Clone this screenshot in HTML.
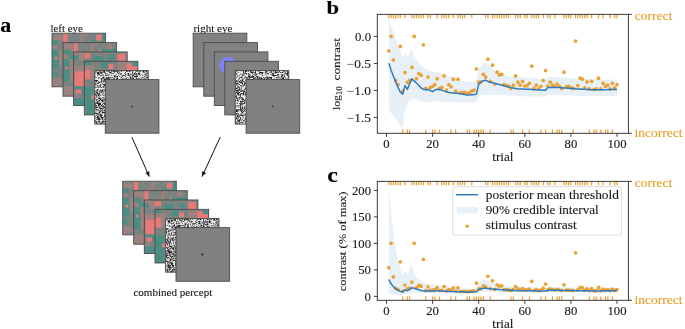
<!DOCTYPE html><html><head><meta charset="utf-8"><style>html,body{margin:0;padding:0;background:#fff;overflow:hidden;}svg{display:block;will-change:transform;}text{font-family:"Liberation Serif",serif;stroke-width:0.12px;paint-order:stroke;}</style></head><body>
<svg width="685" height="329" viewBox="0 0 685 329">
<rect width="685" height="329" fill="#fff"/>
<defs>
<clipPath id="sqc"><rect x="0" y="0" width="53.6" height="53.6"/></clipPath>
<g id="lstack">
<g transform="translate(52 33.2)">
<g clip-path="url(#sqc)">
<rect x="0" y="0" width="53.6" height="53.6" fill="#7b8381"/>
<rect x="1.4" y="2.3" width="8.5" height="4.7" fill="#9d817e"/>
<rect x="0" y="7" width="6" height="2.5" fill="#4a8d82"/>
<rect x="11.2" y="0" width="4.2" height="9.5" fill="#e87979"/>
<rect x="28.5" y="0.5" width="6.3" height="2.5" fill="#9d817e"/>
<rect x="28.5" y="0.5" width="2.7" height="9" fill="#9d817e"/>
<rect x="24.6" y="7.8" width="4" height="1.7" fill="#9d817e"/>
<rect x="36.9" y="7" width="2.5" height="2.5" fill="#9d817e"/>
<rect x="38.7" y="7" width="5.4" height="2.5" fill="#4a8d82"/>
<rect x="44.1" y="1.5" width="5.9" height="5.8" fill="#e87979"/>
<rect x="50" y="0" width="3.7" height="9.5" fill="#4a8d82"/>
<rect x="0" y="6.8" width="5.2" height="5.1" fill="#4a8d82"/>
<rect x="0.9" y="11.9" width="4.3" height="4.4" fill="#9d817e"/>
<rect x="0" y="16.3" width="6.7" height="10.2" fill="#4a8d82"/>
<rect x="6.7" y="16.3" width="3.9" height="15.7" fill="#9d817e"/>
<rect x="2.4" y="23.6" width="2.9" height="2.9" fill="#e87979"/>
<rect x="0" y="26.5" width="6.7" height="8.7" fill="#4a8d82"/>
<rect x="0" y="38" width="5" height="5" fill="#4a8d82"/>
<rect x="0" y="45.4" width="10.6" height="5.1" fill="#9d817e"/>
<rect x="0" y="50.5" width="6" height="3.1" fill="#9d817e"/>
</g>
<rect x="0" y="0" width="53.6" height="53.6" fill="none" stroke="#4a4a4a" stroke-width="0.9"/>
</g>
<g transform="translate(63 42.6)">
<g clip-path="url(#sqc)">
<rect x="0" y="0" width="53.6" height="53.6" fill="#7b8381"/>
<rect x="1.4" y="2.3" width="8.5" height="4.7" fill="#9d817e"/>
<rect x="10.6" y="0" width="4.2" height="9.5" fill="#e87979"/>
<rect x="27.5" y="0.5" width="6.7" height="2.5" fill="#9d817e"/>
<rect x="27.5" y="0.5" width="2.7" height="9" fill="#9d817e"/>
<rect x="23.6" y="7.8" width="4" height="1.7" fill="#9d817e"/>
<rect x="36" y="7" width="2.5" height="2.5" fill="#e87979"/>
<rect x="38" y="6.5" width="15.7" height="3" fill="#4a8d82"/>
<rect x="43.5" y="1.5" width="5.9" height="5" fill="#9d817e"/>
<rect x="0" y="1.1" width="10.6" height="6" fill="#9d817e"/>
<rect x="1.4" y="7.1" width="5.1" height="5.1" fill="#4a8d82"/>
<rect x="0.5" y="12.2" width="5.1" height="4.2" fill="#9d817e"/>
<rect x="5.6" y="12.2" width="5" height="4.2" fill="#4a8d82"/>
<rect x="0" y="16.4" width="6.5" height="22.1" fill="#4a8d82"/>
<rect x="6.5" y="16.4" width="4.1" height="10.2" fill="#9d817e"/>
<rect x="2.3" y="24.1" width="2.5" height="2.5" fill="#e87979"/>
<rect x="7.2" y="26.6" width="3.4" height="12" fill="#9d817e"/>
<rect x="0" y="43.7" width="10.6" height="9.9" fill="#9d817e"/>
</g>
<rect x="0" y="0" width="53.6" height="53.6" fill="none" stroke="#4a4a4a" stroke-width="0.9"/>
</g>
<g transform="translate(73.6 51.9)">
<g clip-path="url(#sqc)">
<rect x="0" y="0" width="53.6" height="53.6" fill="#7b8381"/>
<rect x="0" y="1.3" width="10.8" height="7" fill="#9d817e"/>
<rect x="10.8" y="1.3" width="6" height="5" fill="#e87979"/>
<rect x="19.7" y="4.3" width="9.9" height="5.2" fill="#4a8d82"/>
<rect x="35.6" y="3.3" width="5" height="5" fill="#4a8d82"/>
<rect x="43" y="1.3" width="10.7" height="1.5" fill="#9d817e"/>
<rect x="43.8" y="2.3" width="8" height="7.2" fill="#e87979"/>
<rect x="0" y="0" width="10.7" height="3.5" fill="#9d817e"/>
<rect x="0" y="3.5" width="5" height="5" fill="#4a8d82"/>
<rect x="5" y="3.5" width="5.7" height="5" fill="#9d817e"/>
<rect x="0" y="14.5" width="10.7" height="5" fill="#9d817e"/>
<rect x="1" y="19.5" width="9.7" height="15" fill="#e87979"/>
<rect x="0" y="34.5" width="10.7" height="3" fill="#4a8d82"/>
<rect x="2" y="37.5" width="6" height="4" fill="#e87979"/>
<rect x="8" y="37.5" width="2.7" height="4" fill="#4a8d82"/>
<rect x="2" y="41.5" width="3" height="5" fill="#9d817e"/>
<rect x="0" y="46.5" width="10.7" height="7.2" fill="#4a8d82"/>
</g>
<rect x="0" y="0" width="53.6" height="53.6" fill="none" stroke="#4a4a4a" stroke-width="0.9"/>
</g>
<g transform="translate(84.3 61.3)">
<g clip-path="url(#sqc)">
<rect x="0" y="0" width="53.6" height="53.6" fill="#7b8381"/>
<rect x="0.3" y="0" width="5.5" height="9.3" fill="#4a8d82"/>
<rect x="16.8" y="0.9" width="7" height="6" fill="#4a8d82"/>
<rect x="24" y="2.9" width="5" height="5" fill="#e87979"/>
<rect x="33" y="0.9" width="9.4" height="8.4" fill="#9d817e"/>
<rect x="42.4" y="1.9" width="5.4" height="7.4" fill="#e87979"/>
<rect x="47.8" y="0.9" width="5.9" height="4" fill="#4a8d82"/>
<rect x="47.8" y="4.9" width="5.9" height="4.4" fill="#e87979"/>
<rect x="0" y="0" width="5" height="4" fill="#4a8d82"/>
<rect x="0" y="4" width="10.6" height="4.4" fill="#9d817e"/>
<rect x="0" y="8.4" width="6" height="9.8" fill="#e87979"/>
<rect x="6" y="8.4" width="4.6" height="9.8" fill="#9d817e"/>
<rect x="1" y="25.5" width="8" height="28.2" fill="#4a8d82"/>
<rect x="7" y="34" width="3.6" height="4" fill="#e87979"/>
</g>
<rect x="0" y="0" width="53.6" height="53.6" fill="none" stroke="#4a4a4a" stroke-width="0.9"/>
</g>
<g transform="translate(94.7 70.5)">
<rect x="0" y="0" width="53.6" height="53.6" fill="#ececec"/>
<path d="M4.8 0h0.8v0.8h-0.8zM8 0h2.4v0.8h-2.4zM12 0h0.8v0.8h-0.8zM16 0h1.6v0.8h-1.6zM18.4 0h3.2v0.8h-3.2zM28 0h0.8v0.8h-0.8zM32 0h3.2v0.8h-3.2zM37.6 0h0.8v0.8h-0.8zM40 0h1.6v0.8h-1.6zM44 0h1.6v0.8h-1.6zM47.2 0h2.4v0.8h-2.4zM51.2 0h2.4v0.8h-2.4zM0 0.8h0.8v0.8h-0.8zM1.6 0.8h0.8v0.8h-0.8zM4 0.8h0.8v0.8h-0.8zM5.6 0.8h0.8v0.8h-0.8zM7.2 0.8h0.8v0.8h-0.8zM8.8 0.8h1.6v0.8h-1.6zM12 0.8h0.8v0.8h-0.8zM13.6 0.8h1.6v0.8h-1.6zM16.8 0.8h0.8v0.8h-0.8zM18.4 0.8h1.6v0.8h-1.6zM20.8 0.8h3.2v0.8h-3.2zM24.8 0.8h0.8v0.8h-0.8zM26.4 0.8h0.8v0.8h-0.8zM31.2 0.8h1.6v0.8h-1.6zM34.4 0.8h1.6v0.8h-1.6zM37.6 0.8h0.8v0.8h-0.8zM41.6 0.8h1.6v0.8h-1.6zM44 0.8h0.8v0.8h-0.8zM45.6 0.8h0.8v0.8h-0.8zM48 0.8h1.6v0.8h-1.6zM50.4 0.8h1.6v0.8h-1.6zM0.8 1.6h0.8v0.8h-0.8zM2.4 1.6h2.4v0.8h-2.4zM5.6 1.6h2.4v0.8h-2.4zM8.8 1.6h1.6v0.8h-1.6zM14.4 1.6h2.4v0.8h-2.4zM19.2 1.6h0.8v0.8h-0.8zM22.4 1.6h0.8v0.8h-0.8zM24 1.6h0.8v0.8h-0.8zM30.4 1.6h0.8v0.8h-0.8zM37.6 1.6h0.8v0.8h-0.8zM40 1.6h0.8v0.8h-0.8zM44 1.6h0.8v0.8h-0.8zM48 1.6h0.8v0.8h-0.8zM49.6 1.6h0.8v0.8h-0.8zM52 1.6h0.8v0.8h-0.8zM2.4 2.4h2.4v0.8h-2.4zM5.6 2.4h1.6v0.8h-1.6zM10.4 2.4h0.8v0.8h-0.8zM12 2.4h0.8v0.8h-0.8zM16 2.4h0.8v0.8h-0.8zM17.6 2.4h1.6v0.8h-1.6zM23.2 2.4h1.6v0.8h-1.6zM25.6 2.4h1.6v0.8h-1.6zM29.6 2.4h0.8v0.8h-0.8zM32.8 2.4h1.6v0.8h-1.6zM35.2 2.4h0.8v0.8h-0.8zM37.6 2.4h0.8v0.8h-0.8zM39.2 2.4h1.6v0.8h-1.6zM41.6 2.4h0.8v0.8h-0.8zM43.2 2.4h2.4v0.8h-2.4zM51.2 2.4h0.8v0.8h-0.8zM52.8 2.4h0.8v0.8h-0.8zM0 3.2h0.8v0.8h-0.8zM2.4 3.2h2.4v0.8h-2.4zM8 3.2h0.8v0.8h-0.8zM10.4 3.2h0.8v0.8h-0.8zM12.8 3.2h0.8v0.8h-0.8zM16 3.2h0.8v0.8h-0.8zM21.6 3.2h0.8v0.8h-0.8zM25.6 3.2h0.8v0.8h-0.8zM30.4 3.2h0.8v0.8h-0.8zM32.8 3.2h1.6v0.8h-1.6zM37.6 3.2h0.8v0.8h-0.8zM39.2 3.2h0.8v0.8h-0.8zM40.8 3.2h1.6v0.8h-1.6zM43.2 3.2h1.6v0.8h-1.6zM50.4 3.2h1.6v0.8h-1.6zM52.8 3.2h0.8v0.8h-0.8zM4 4h1.6v0.8h-1.6zM7.2 4h0.8v0.8h-0.8zM11.2 4h0.8v0.8h-0.8zM14.4 4h0.8v0.8h-0.8zM20.8 4h0.8v0.8h-0.8zM24.8 4h0.8v0.8h-0.8zM26.4 4h0.8v0.8h-0.8zM30.4 4h1.6v0.8h-1.6zM33.6 4h0.8v0.8h-0.8zM35.2 4h2.4v0.8h-2.4zM38.4 4h1.6v0.8h-1.6zM40.8 4h0.8v0.8h-0.8zM42.4 4h0.8v0.8h-0.8zM44 4h1.6v0.8h-1.6zM47.2 4h0.8v0.8h-0.8zM49.6 4h1.6v0.8h-1.6zM2.4 4.8h0.8v0.8h-0.8zM5.6 4.8h1.6v0.8h-1.6zM8 4.8h0.8v0.8h-0.8zM10.4 4.8h1.6v0.8h-1.6zM12.8 4.8h1.6v0.8h-1.6zM16.8 4.8h0.8v0.8h-0.8zM19.2 4.8h1.6v0.8h-1.6zM23.2 4.8h0.8v0.8h-0.8zM27.2 4.8h3.2v0.8h-3.2zM32.8 4.8h2.4v0.8h-2.4zM37.6 4.8h1.6v0.8h-1.6zM41.6 4.8h0.8v0.8h-0.8zM45.6 4.8h0.8v0.8h-0.8zM48 4.8h0.8v0.8h-0.8zM51.2 4.8h1.6v0.8h-1.6zM0 5.6h0.8v0.8h-0.8zM8.8 5.6h0.8v0.8h-0.8zM19.2 5.6h1.6v0.8h-1.6zM21.6 5.6h1.6v0.8h-1.6zM24.8 5.6h0.8v0.8h-0.8zM27.2 5.6h0.8v0.8h-0.8zM30.4 5.6h0.8v0.8h-0.8zM35.2 5.6h0.8v0.8h-0.8zM37.6 5.6h0.8v0.8h-0.8zM39.2 5.6h4v0.8h-4zM49.6 5.6h0.8v0.8h-0.8zM52 5.6h0.8v0.8h-0.8zM0 6.4h0.8v0.8h-0.8zM1.6 6.4h0.8v0.8h-0.8zM4 6.4h0.8v0.8h-0.8zM8 6.4h1.6v0.8h-1.6zM11.2 6.4h0.8v0.8h-0.8zM12.8 6.4h4v0.8h-4zM17.6 6.4h0.8v0.8h-0.8zM20 6.4h0.8v0.8h-0.8zM22.4 6.4h0.8v0.8h-0.8zM26.4 6.4h0.8v0.8h-0.8zM32.8 6.4h0.8v0.8h-0.8zM35.2 6.4h1.6v0.8h-1.6zM37.6 6.4h0.8v0.8h-0.8zM40.8 6.4h0.8v0.8h-0.8zM47.2 6.4h1.6v0.8h-1.6zM51.2 6.4h1.6v0.8h-1.6zM3.2 7.2h1.6v0.8h-1.6zM7.2 7.2h2.4v0.8h-2.4zM11.2 7.2h0.8v0.8h-0.8zM12.8 7.2h1.6v0.8h-1.6zM16.8 7.2h0.8v0.8h-0.8zM18.4 7.2h1.6v0.8h-1.6zM21.6 7.2h1.6v0.8h-1.6zM25.6 7.2h0.8v0.8h-0.8zM27.2 7.2h0.8v0.8h-0.8zM28.8 7.2h0.8v0.8h-0.8zM31.2 7.2h0.8v0.8h-0.8zM35.2 7.2h1.6v0.8h-1.6zM37.6 7.2h1.6v0.8h-1.6zM41.6 7.2h0.8v0.8h-0.8zM43.2 7.2h1.6v0.8h-1.6zM45.6 7.2h1.6v0.8h-1.6zM48.8 7.2h2.4v0.8h-2.4zM52 7.2h1.6v0.8h-1.6zM5.6 8h2.4v0.8h-2.4zM9.6 8h5.6v0.8h-5.6zM19.2 8h0.8v0.8h-0.8zM21.6 8h1.6v0.8h-1.6zM28 8h0.8v0.8h-0.8zM30.4 8h1.6v0.8h-1.6zM33.6 8h0.8v0.8h-0.8zM35.2 8h0.8v0.8h-0.8zM37.6 8h1.6v0.8h-1.6zM41.6 8h1.6v0.8h-1.6zM6.4 8.8h0.8v0.8h-0.8zM8.8 8.8h2.4v0.8h-2.4zM12 8.8h0.8v0.8h-0.8zM13.6 8.8h2.4v0.8h-2.4zM17.6 8.8h1.6v0.8h-1.6zM21.6 8.8h4v0.8h-4zM27.2 8.8h3.2v0.8h-3.2zM31.2 8.8h0.8v0.8h-0.8zM34.4 8.8h0.8v0.8h-0.8zM36.8 8.8h0.8v0.8h-0.8zM40 8.8h1.6v0.8h-1.6zM43.2 8.8h0.8v0.8h-0.8zM45.6 8.8h0.8v0.8h-0.8zM48 8.8h1.6v0.8h-1.6zM50.4 8.8h0.8v0.8h-0.8zM0 9.6h3.2v0.8h-3.2zM6.4 9.6h0.8v0.8h-0.8zM8 9.6h0.8v0.8h-0.8zM9.6 9.6h0.8v0.8h-0.8zM12.8 9.6h1.6v0.8h-1.6zM15.2 9.6h0.8v0.8h-0.8zM20 9.6h0.8v0.8h-0.8zM23.2 9.6h0.8v0.8h-0.8zM24.8 9.6h0.8v0.8h-0.8zM27.2 9.6h0.8v0.8h-0.8zM28.8 9.6h3.2v0.8h-3.2zM33.6 9.6h0.8v0.8h-0.8zM35.2 9.6h1.6v0.8h-1.6zM40 9.6h1.6v0.8h-1.6zM42.4 9.6h0.8v0.8h-0.8zM44.8 9.6h0.8v0.8h-0.8zM47.2 9.6h0.8v0.8h-0.8zM48.8 9.6h1.6v0.8h-1.6zM51.2 9.6h2.4v0.8h-2.4zM0.8 10.4h1.6v0.8h-1.6zM3.2 10.4h0.8v0.8h-0.8zM6.4 10.4h0.8v0.8h-0.8zM8 10.4h2.4v0.8h-2.4zM0.8 11.2h0.8v0.8h-0.8zM4 11.2h3.2v0.8h-3.2zM8 11.2h0.8v0.8h-0.8zM2.4 12h1.6v0.8h-1.6zM4.8 12h0.8v0.8h-0.8zM10.4 12h0.8v0.8h-0.8zM0 12.8h1.6v0.8h-1.6zM2.4 12.8h1.6v0.8h-1.6zM7.2 12.8h0.8v0.8h-0.8zM10.4 12.8h0.8v0.8h-0.8zM0.8 13.6h0.8v0.8h-0.8zM5.6 13.6h0.8v0.8h-0.8zM8 13.6h2.4v0.8h-2.4zM0.8 14.4h0.8v0.8h-0.8zM2.4 14.4h0.8v0.8h-0.8zM4 14.4h0.8v0.8h-0.8zM5.6 14.4h0.8v0.8h-0.8zM9.6 14.4h0.8v0.8h-0.8zM2.4 15.2h0.8v0.8h-0.8zM4 15.2h0.8v0.8h-0.8zM5.6 15.2h0.8v0.8h-0.8zM8 15.2h0.8v0.8h-0.8zM9.6 15.2h1.6v0.8h-1.6zM0 16h0.8v0.8h-0.8zM3.2 16h0.8v0.8h-0.8zM5.6 16h0.8v0.8h-0.8zM8 16h1.6v0.8h-1.6zM10.4 16h0.8v0.8h-0.8zM0 16.8h0.8v0.8h-0.8zM1.6 16.8h0.8v0.8h-0.8zM3.2 16.8h0.8v0.8h-0.8zM4.8 16.8h0.8v0.8h-0.8zM6.4 16.8h0.8v0.8h-0.8zM8 16.8h0.8v0.8h-0.8zM2.4 18.4h1.6v0.8h-1.6zM8 18.4h0.8v0.8h-0.8zM9.6 18.4h1.6v0.8h-1.6zM1.6 19.2h1.6v0.8h-1.6zM4.8 19.2h4v0.8h-4zM2.4 20h0.8v0.8h-0.8zM5.6 20h0.8v0.8h-0.8zM7.2 20h0.8v0.8h-0.8zM9.6 20h1.6v0.8h-1.6zM0 20.8h2.4v0.8h-2.4zM4 20.8h1.6v0.8h-1.6zM6.4 20.8h1.6v0.8h-1.6zM8.8 20.8h0.8v0.8h-0.8zM1.6 21.6h1.6v0.8h-1.6zM4.8 21.6h0.8v0.8h-0.8zM6.4 21.6h0.8v0.8h-0.8zM8 21.6h0.8v0.8h-0.8zM10.4 21.6h0.8v0.8h-0.8zM0.8 22.4h0.8v0.8h-0.8zM2.4 22.4h1.6v0.8h-1.6zM4.8 22.4h0.8v0.8h-0.8zM8 22.4h0.8v0.8h-0.8zM0 23.2h2.4v0.8h-2.4zM3.2 23.2h2.4v0.8h-2.4zM7.2 23.2h0.8v0.8h-0.8zM10.4 23.2h0.8v0.8h-0.8zM0 24h0.8v0.8h-0.8zM2.4 24h0.8v0.8h-0.8zM4 24h0.8v0.8h-0.8zM8 24h0.8v0.8h-0.8zM9.6 24h1.6v0.8h-1.6zM0.8 24.8h1.6v0.8h-1.6zM3.2 24.8h1.6v0.8h-1.6zM5.6 24.8h0.8v0.8h-0.8zM8 24.8h0.8v0.8h-0.8zM10.4 24.8h0.8v0.8h-0.8zM1.6 25.6h0.8v0.8h-0.8zM4 25.6h0.8v0.8h-0.8zM0 26.4h0.8v0.8h-0.8zM1.6 26.4h0.8v0.8h-0.8zM3.2 26.4h0.8v0.8h-0.8zM7.2 26.4h0.8v0.8h-0.8zM8.8 26.4h0.8v0.8h-0.8zM0 27.2h0.8v0.8h-0.8zM4 27.2h2.4v0.8h-2.4zM8.8 27.2h0.8v0.8h-0.8zM10.4 27.2h0.8v0.8h-0.8zM3.2 28h4v0.8h-4zM8.8 28h0.8v0.8h-0.8zM10.4 28h0.8v0.8h-0.8zM0.8 28.8h2.4v0.8h-2.4zM5.6 28.8h0.8v0.8h-0.8zM7.2 28.8h1.6v0.8h-1.6zM9.6 28.8h0.8v0.8h-0.8zM1.6 29.6h0.8v0.8h-0.8zM4 29.6h1.6v0.8h-1.6zM6.4 29.6h2.4v0.8h-2.4zM9.6 29.6h1.6v0.8h-1.6zM2.4 30.4h1.6v0.8h-1.6zM4.8 30.4h0.8v0.8h-0.8zM7.2 30.4h1.6v0.8h-1.6zM10.4 30.4h0.8v0.8h-0.8zM1.6 31.2h1.6v0.8h-1.6zM7.2 31.2h0.8v0.8h-0.8zM8.8 31.2h0.8v0.8h-0.8zM10.4 31.2h0.8v0.8h-0.8zM0 32h1.6v0.8h-1.6zM2.4 32h2.4v0.8h-2.4zM5.6 32h0.8v0.8h-0.8zM9.6 32h1.6v0.8h-1.6zM0 32.8h0.8v0.8h-0.8zM1.6 32.8h4.8v0.8h-4.8zM8 32.8h2.4v0.8h-2.4zM0 33.6h0.8v0.8h-0.8zM3.2 33.6h3.2v0.8h-3.2zM7.2 33.6h0.8v0.8h-0.8zM9.6 33.6h1.6v0.8h-1.6zM0 34.4h2.4v0.8h-2.4zM3.2 34.4h1.6v0.8h-1.6zM6.4 34.4h0.8v0.8h-0.8zM8 34.4h0.8v0.8h-0.8zM10.4 34.4h0.8v0.8h-0.8zM0 35.2h1.6v0.8h-1.6zM3.2 35.2h0.8v0.8h-0.8zM4.8 35.2h4.8v0.8h-4.8zM1.6 36h0.8v0.8h-0.8zM4 36h0.8v0.8h-0.8zM8 36h0.8v0.8h-0.8zM9.6 36h0.8v0.8h-0.8zM0 36.8h3.2v0.8h-3.2zM4 36.8h1.6v0.8h-1.6zM7.2 36.8h0.8v0.8h-0.8zM8.8 36.8h2.4v0.8h-2.4zM0.8 37.6h0.8v0.8h-0.8zM4.8 37.6h3.2v0.8h-3.2zM8.8 37.6h0.8v0.8h-0.8zM0.8 38.4h3.2v0.8h-3.2zM5.6 38.4h0.8v0.8h-0.8zM7.2 38.4h0.8v0.8h-0.8zM10.4 38.4h0.8v0.8h-0.8zM5.6 39.2h0.8v0.8h-0.8zM8 39.2h0.8v0.8h-0.8zM9.6 39.2h1.6v0.8h-1.6zM0.8 40h1.6v0.8h-1.6zM3.2 40h2.4v0.8h-2.4zM6.4 40h1.6v0.8h-1.6zM8.8 40h1.6v0.8h-1.6zM4.8 40.8h1.6v0.8h-1.6zM7.2 40.8h0.8v0.8h-0.8zM0.8 41.6h0.8v0.8h-0.8zM4 41.6h1.6v0.8h-1.6zM7.2 41.6h3.2v0.8h-3.2zM0 42.4h3.2v0.8h-3.2zM4 42.4h0.8v0.8h-0.8zM7.2 42.4h0.8v0.8h-0.8zM9.6 42.4h1.6v0.8h-1.6zM1.6 43.2h0.8v0.8h-0.8zM3.2 43.2h0.8v0.8h-0.8zM4.8 43.2h1.6v0.8h-1.6zM2.4 44h1.6v0.8h-1.6zM4.8 44h2.4v0.8h-2.4zM9.6 44h0.8v0.8h-0.8zM1.6 44.8h0.8v0.8h-0.8zM4 44.8h0.8v0.8h-0.8zM5.6 44.8h2.4v0.8h-2.4zM9.6 44.8h1.6v0.8h-1.6zM0 45.6h0.8v0.8h-0.8zM2.4 45.6h1.6v0.8h-1.6zM5.6 45.6h1.6v0.8h-1.6zM9.6 45.6h0.8v0.8h-0.8zM1.6 46.4h2.4v0.8h-2.4zM4.8 46.4h0.8v0.8h-0.8zM6.4 46.4h2.4v0.8h-2.4zM9.6 46.4h0.8v0.8h-0.8zM0 47.2h1.6v0.8h-1.6zM2.4 47.2h3.2v0.8h-3.2zM6.4 47.2h2.4v0.8h-2.4zM10.4 47.2h0.8v0.8h-0.8zM3.2 48h1.6v0.8h-1.6zM7.2 48h0.8v0.8h-0.8zM1.6 48.8h4.8v0.8h-4.8zM7.2 48.8h0.8v0.8h-0.8zM8.8 48.8h1.6v0.8h-1.6zM0 49.6h0.8v0.8h-0.8zM4 49.6h0.8v0.8h-0.8zM8 49.6h0.8v0.8h-0.8zM0 50.4h0.8v0.8h-0.8zM1.6 50.4h0.8v0.8h-0.8zM3.2 50.4h2.4v0.8h-2.4zM7.2 50.4h0.8v0.8h-0.8zM8.8 50.4h1.6v0.8h-1.6zM0 51.2h2.4v0.8h-2.4zM3.2 51.2h0.8v0.8h-0.8zM6.4 51.2h3.2v0.8h-3.2zM10.4 51.2h0.8v0.8h-0.8zM1.6 52h0.8v0.8h-0.8zM4 52h0.8v0.8h-0.8zM5.6 52h0.8v0.8h-0.8zM7.2 52h0.8v0.8h-0.8zM10.4 52h0.8v0.8h-0.8zM1.6 52.8h1.6v0.8h-1.6zM4.8 52.8h2.4v0.8h-2.4zM8 52.8h0.8v0.8h-0.8zM9.6 52.8h0.8v0.8h-0.8z" fill="#1c1c1c"/>
<rect x="0" y="0" width="53.6" height="53.6" fill="none" stroke="#4a4a4a" stroke-width="0.9"/>
</g>
<rect x="105.3" y="79.6" width="53.6" height="53.6" fill="#7f8281" stroke="#4a4a4a" stroke-width="0.9"/>
</g>
</defs>
<text x="0.3" y="31.5" font-size="20.5" textLength="11" lengthAdjust="spacingAndGlyphs" fill="#000" stroke="#000" font-weight="bold" stroke-width="0">a</text>
<text x="326.5" y="13.6" font-size="18" textLength="12.6" lengthAdjust="spacingAndGlyphs" fill="#000" stroke="#000" font-weight="bold" stroke-width="0">b</text>
<text x="327.2" y="181.5" font-size="20" textLength="10.6" lengthAdjust="spacingAndGlyphs" fill="#000" stroke="#000" font-weight="bold" stroke-width="0">c</text>
<text x="50.5" y="31.9" font-size="9.5" textLength="32.25" lengthAdjust="spacingAndGlyphs" fill="#1a1a1a" stroke="#1a1a1a" stroke-width="0.05">left eye</text>
<text x="193.4" y="31.9" font-size="9.5" textLength="39.13" lengthAdjust="spacingAndGlyphs" fill="#1a1a1a" stroke="#1a1a1a" stroke-width="0.05">right eye</text>
<use href="#lstack"/>
<rect x="193.2" y="33.2" width="53.6" height="53.6" fill="#7f8281" stroke="#4a4a4a" stroke-width="0.9"/>
<rect x="203.8" y="42.6" width="53.6" height="53.6" fill="#7f8281" stroke="#4a4a4a" stroke-width="0.9"/>
<rect x="214.3" y="51.9" width="53.6" height="53.6" fill="#7f8281" stroke="#4a4a4a" stroke-width="0.9"/>
<circle cx="227.8" cy="65.6" r="8.5" fill="#8080ff"/>
<rect x="224.8" y="61.3" width="53.6" height="53.6" fill="#7f8281" stroke="#4a4a4a" stroke-width="0.9"/>
<g transform="translate(235.2 70.5)">
<rect x="0" y="0" width="53.6" height="53.6" fill="#ececec"/>
<path d="M2.4 0h0.8v0.8h-0.8zM5.6 0h1.6v0.8h-1.6zM8 0h0.8v0.8h-0.8zM9.6 0h1.6v0.8h-1.6zM14.4 0h1.6v0.8h-1.6zM20 0h0.8v0.8h-0.8zM21.6 0h0.8v0.8h-0.8zM24 0h1.6v0.8h-1.6zM29.6 0h2.4v0.8h-2.4zM32.8 0h4v0.8h-4zM38.4 0h3.2v0.8h-3.2zM43.2 0h1.6v0.8h-1.6zM47.2 0h0.8v0.8h-0.8zM51.2 0h0.8v0.8h-0.8zM52.8 0h0.8v0.8h-0.8zM0.8 0.8h0.8v0.8h-0.8zM8 0.8h0.8v0.8h-0.8zM9.6 0.8h2.4v0.8h-2.4zM12.8 0.8h0.8v0.8h-0.8zM15.2 0.8h1.6v0.8h-1.6zM17.6 0.8h0.8v0.8h-0.8zM20 0.8h0.8v0.8h-0.8zM23.2 0.8h0.8v0.8h-0.8zM30.4 0.8h1.6v0.8h-1.6zM36 0.8h0.8v0.8h-0.8zM37.6 0.8h0.8v0.8h-0.8zM40 0.8h0.8v0.8h-0.8zM41.6 0.8h0.8v0.8h-0.8zM44 0.8h0.8v0.8h-0.8zM48 0.8h1.6v0.8h-1.6zM50.4 0.8h0.8v0.8h-0.8zM52 0.8h0.8v0.8h-0.8zM0 1.6h0.8v0.8h-0.8zM2.4 1.6h0.8v0.8h-0.8zM8 1.6h0.8v0.8h-0.8zM9.6 1.6h0.8v0.8h-0.8zM15.2 1.6h3.2v0.8h-3.2zM19.2 1.6h1.6v0.8h-1.6zM24 1.6h4v0.8h-4zM29.6 1.6h0.8v0.8h-0.8zM31.2 1.6h0.8v0.8h-0.8zM34.4 1.6h0.8v0.8h-0.8zM36 1.6h0.8v0.8h-0.8zM38.4 1.6h0.8v0.8h-0.8zM40 1.6h2.4v0.8h-2.4zM43.2 1.6h0.8v0.8h-0.8zM44.8 1.6h0.8v0.8h-0.8zM46.4 1.6h1.6v0.8h-1.6zM49.6 1.6h0.8v0.8h-0.8zM52 1.6h1.6v0.8h-1.6zM0.8 2.4h0.8v0.8h-0.8zM8 2.4h2.4v0.8h-2.4zM11.2 2.4h0.8v0.8h-0.8zM12.8 2.4h0.8v0.8h-0.8zM16.8 2.4h0.8v0.8h-0.8zM20 2.4h0.8v0.8h-0.8zM23.2 2.4h1.6v0.8h-1.6zM26.4 2.4h1.6v0.8h-1.6zM30.4 2.4h0.8v0.8h-0.8zM32 2.4h1.6v0.8h-1.6zM36.8 2.4h1.6v0.8h-1.6zM40 2.4h0.8v0.8h-0.8zM49.6 2.4h0.8v0.8h-0.8zM51.2 2.4h2.4v0.8h-2.4zM0 3.2h1.6v0.8h-1.6zM4.8 3.2h1.6v0.8h-1.6zM7.2 3.2h0.8v0.8h-0.8zM10.4 3.2h1.6v0.8h-1.6zM12.8 3.2h0.8v0.8h-0.8zM14.4 3.2h0.8v0.8h-0.8zM18.4 3.2h1.6v0.8h-1.6zM20.8 3.2h1.6v0.8h-1.6zM24.8 3.2h0.8v0.8h-0.8zM26.4 3.2h0.8v0.8h-0.8zM29.6 3.2h0.8v0.8h-0.8zM32.8 3.2h0.8v0.8h-0.8zM35.2 3.2h0.8v0.8h-0.8zM36.8 3.2h1.6v0.8h-1.6zM42.4 3.2h0.8v0.8h-0.8zM46.4 3.2h0.8v0.8h-0.8zM48.8 3.2h0.8v0.8h-0.8zM50.4 3.2h2.4v0.8h-2.4zM0 4h0.8v0.8h-0.8zM1.6 4h0.8v0.8h-0.8zM7.2 4h0.8v0.8h-0.8zM8.8 4h0.8v0.8h-0.8zM13.6 4h1.6v0.8h-1.6zM17.6 4h0.8v0.8h-0.8zM20 4h1.6v0.8h-1.6zM31.2 4h0.8v0.8h-0.8zM36 4h0.8v0.8h-0.8zM37.6 4h1.6v0.8h-1.6zM41.6 4h2.4v0.8h-2.4zM45.6 4h0.8v0.8h-0.8zM47.2 4h1.6v0.8h-1.6zM52 4h0.8v0.8h-0.8zM2.4 4.8h0.8v0.8h-0.8zM4 4.8h0.8v0.8h-0.8zM7.2 4.8h1.6v0.8h-1.6zM12.8 4.8h0.8v0.8h-0.8zM14.4 4.8h0.8v0.8h-0.8zM16.8 4.8h0.8v0.8h-0.8zM20 4.8h0.8v0.8h-0.8zM26.4 4.8h1.6v0.8h-1.6zM36.8 4.8h4.8v0.8h-4.8zM42.4 4.8h0.8v0.8h-0.8zM46.4 4.8h1.6v0.8h-1.6zM48.8 4.8h0.8v0.8h-0.8zM52 4.8h1.6v0.8h-1.6zM1.6 5.6h0.8v0.8h-0.8zM6.4 5.6h0.8v0.8h-0.8zM9.6 5.6h0.8v0.8h-0.8zM12.8 5.6h2.4v0.8h-2.4zM16 5.6h3.2v0.8h-3.2zM20.8 5.6h1.6v0.8h-1.6zM23.2 5.6h0.8v0.8h-0.8zM31.2 5.6h0.8v0.8h-0.8zM38.4 5.6h0.8v0.8h-0.8zM43.2 5.6h0.8v0.8h-0.8zM45.6 5.6h1.6v0.8h-1.6zM48.8 5.6h0.8v0.8h-0.8zM52.8 5.6h0.8v0.8h-0.8zM0.8 6.4h0.8v0.8h-0.8zM4 6.4h3.2v0.8h-3.2zM9.6 6.4h0.8v0.8h-0.8zM11.2 6.4h1.6v0.8h-1.6zM13.6 6.4h4v0.8h-4zM18.4 6.4h0.8v0.8h-0.8zM20 6.4h0.8v0.8h-0.8zM21.6 6.4h1.6v0.8h-1.6zM24 6.4h0.8v0.8h-0.8zM25.6 6.4h0.8v0.8h-0.8zM28 6.4h0.8v0.8h-0.8zM29.6 6.4h0.8v0.8h-0.8zM31.2 6.4h5.6v0.8h-5.6zM40.8 6.4h1.6v0.8h-1.6zM43.2 6.4h0.8v0.8h-0.8zM46.4 6.4h0.8v0.8h-0.8zM48 6.4h0.8v0.8h-0.8zM49.6 6.4h0.8v0.8h-0.8zM3.2 7.2h0.8v0.8h-0.8zM6.4 7.2h0.8v0.8h-0.8zM8.8 7.2h0.8v0.8h-0.8zM10.4 7.2h1.6v0.8h-1.6zM12.8 7.2h0.8v0.8h-0.8zM14.4 7.2h0.8v0.8h-0.8zM17.6 7.2h1.6v0.8h-1.6zM20 7.2h0.8v0.8h-0.8zM21.6 7.2h1.6v0.8h-1.6zM24 7.2h3.2v0.8h-3.2zM28.8 7.2h0.8v0.8h-0.8zM30.4 7.2h0.8v0.8h-0.8zM32 7.2h0.8v0.8h-0.8zM34.4 7.2h2.4v0.8h-2.4zM38.4 7.2h0.8v0.8h-0.8zM42.4 7.2h0.8v0.8h-0.8zM44 7.2h1.6v0.8h-1.6zM46.4 7.2h2.4v0.8h-2.4zM52.8 7.2h0.8v0.8h-0.8zM4 8h0.8v0.8h-0.8zM8 8h0.8v0.8h-0.8zM12 8h0.8v0.8h-0.8zM13.6 8h0.8v0.8h-0.8zM17.6 8h2.4v0.8h-2.4zM21.6 8h1.6v0.8h-1.6zM24 8h0.8v0.8h-0.8zM25.6 8h1.6v0.8h-1.6zM28 8h1.6v0.8h-1.6zM31.2 8h3.2v0.8h-3.2zM36 8h0.8v0.8h-0.8zM40.8 8h0.8v0.8h-0.8zM46.4 8h2.4v0.8h-2.4zM49.6 8h0.8v0.8h-0.8zM51.2 8h1.6v0.8h-1.6zM0 8.8h0.8v0.8h-0.8zM3.2 8.8h0.8v0.8h-0.8zM6.4 8.8h1.6v0.8h-1.6zM10.4 8.8h0.8v0.8h-0.8zM12 8.8h2.4v0.8h-2.4zM15.2 8.8h2.4v0.8h-2.4zM19.2 8.8h0.8v0.8h-0.8zM24 8.8h3.2v0.8h-3.2zM28.8 8.8h0.8v0.8h-0.8zM30.4 8.8h3.2v0.8h-3.2zM37.6 8.8h0.8v0.8h-0.8zM39.2 8.8h0.8v0.8h-0.8zM42.4 8.8h0.8v0.8h-0.8zM45.6 8.8h0.8v0.8h-0.8zM51.2 8.8h0.8v0.8h-0.8zM52.8 8.8h0.8v0.8h-0.8zM0.8 9.6h0.8v0.8h-0.8zM2.4 9.6h0.8v0.8h-0.8zM4.8 9.6h0.8v0.8h-0.8zM6.4 9.6h1.6v0.8h-1.6zM10.4 9.6h0.8v0.8h-0.8zM20.8 9.6h4.8v0.8h-4.8zM26.4 9.6h1.6v0.8h-1.6zM28.8 9.6h1.6v0.8h-1.6zM32 9.6h1.6v0.8h-1.6zM36 9.6h0.8v0.8h-0.8zM40 9.6h1.6v0.8h-1.6zM42.4 9.6h0.8v0.8h-0.8zM44 9.6h0.8v0.8h-0.8zM49.6 9.6h0.8v0.8h-0.8zM51.2 9.6h2.4v0.8h-2.4zM0 10.4h2.4v0.8h-2.4zM3.2 10.4h1.6v0.8h-1.6zM5.6 10.4h1.6v0.8h-1.6zM8 10.4h1.6v0.8h-1.6zM0 11.2h0.8v0.8h-0.8zM2.4 11.2h0.8v0.8h-0.8zM4 11.2h1.6v0.8h-1.6zM6.4 11.2h1.6v0.8h-1.6zM9.6 11.2h0.8v0.8h-0.8zM0 12h0.8v0.8h-0.8zM1.6 12h0.8v0.8h-0.8zM4.8 12h2.4v0.8h-2.4zM8.8 12h0.8v0.8h-0.8zM10.4 12h0.8v0.8h-0.8zM0 12.8h3.2v0.8h-3.2zM6.4 12.8h1.6v0.8h-1.6zM8.8 12.8h2.4v0.8h-2.4zM0.8 13.6h0.8v0.8h-0.8zM2.4 13.6h0.8v0.8h-0.8zM4 13.6h0.8v0.8h-0.8zM7.2 13.6h0.8v0.8h-0.8zM8.8 13.6h0.8v0.8h-0.8zM1.6 14.4h0.8v0.8h-0.8zM4.8 14.4h0.8v0.8h-0.8zM6.4 14.4h0.8v0.8h-0.8zM8 14.4h1.6v0.8h-1.6zM10.4 14.4h0.8v0.8h-0.8zM0 15.2h0.8v0.8h-0.8zM2.4 15.2h0.8v0.8h-0.8zM5.6 15.2h1.6v0.8h-1.6zM0 16h0.8v0.8h-0.8zM2.4 16h1.6v0.8h-1.6zM8 16h0.8v0.8h-0.8zM10.4 16h0.8v0.8h-0.8zM1.6 16.8h0.8v0.8h-0.8zM3.2 16.8h1.6v0.8h-1.6zM5.6 16.8h0.8v0.8h-0.8zM10.4 16.8h0.8v0.8h-0.8zM0 17.6h2.4v0.8h-2.4zM4 17.6h0.8v0.8h-0.8zM5.6 17.6h0.8v0.8h-0.8zM9.6 17.6h1.6v0.8h-1.6zM3.2 18.4h1.6v0.8h-1.6zM5.6 18.4h0.8v0.8h-0.8zM8.8 18.4h0.8v0.8h-0.8zM10.4 18.4h0.8v0.8h-0.8zM0 19.2h3.2v0.8h-3.2zM4 19.2h1.6v0.8h-1.6zM7.2 19.2h0.8v0.8h-0.8zM0.8 20h3.2v0.8h-3.2zM5.6 20h4v0.8h-4zM2.4 20.8h0.8v0.8h-0.8zM4.8 20.8h1.6v0.8h-1.6zM8 20.8h2.4v0.8h-2.4zM0.8 21.6h1.6v0.8h-1.6zM3.2 21.6h1.6v0.8h-1.6zM8 21.6h0.8v0.8h-0.8zM9.6 21.6h0.8v0.8h-0.8zM1.6 22.4h2.4v0.8h-2.4zM5.6 22.4h3.2v0.8h-3.2zM9.6 22.4h0.8v0.8h-0.8zM1.6 23.2h2.4v0.8h-2.4zM4.8 23.2h1.6v0.8h-1.6zM8 23.2h0.8v0.8h-0.8zM9.6 23.2h1.6v0.8h-1.6zM2.4 24h0.8v0.8h-0.8zM4 24h1.6v0.8h-1.6zM7.2 24h2.4v0.8h-2.4zM10.4 24h0.8v0.8h-0.8zM0.8 24.8h0.8v0.8h-0.8zM3.2 24.8h0.8v0.8h-0.8zM4.8 24.8h0.8v0.8h-0.8zM10.4 24.8h0.8v0.8h-0.8zM0 25.6h1.6v0.8h-1.6zM4.8 25.6h0.8v0.8h-0.8zM0.8 26.4h0.8v0.8h-0.8zM3.2 26.4h1.6v0.8h-1.6zM5.6 26.4h1.6v0.8h-1.6zM0.8 27.2h1.6v0.8h-1.6zM4 27.2h1.6v0.8h-1.6zM6.4 27.2h0.8v0.8h-0.8zM1.6 28h1.6v0.8h-1.6zM6.4 28h2.4v0.8h-2.4zM10.4 28h0.8v0.8h-0.8zM2.4 28.8h0.8v0.8h-0.8zM4 28.8h0.8v0.8h-0.8zM5.6 28.8h0.8v0.8h-0.8zM7.2 28.8h1.6v0.8h-1.6zM10.4 28.8h0.8v0.8h-0.8zM0 29.6h0.8v0.8h-0.8zM1.6 29.6h1.6v0.8h-1.6zM7.2 29.6h0.8v0.8h-0.8zM8.8 29.6h1.6v0.8h-1.6zM2.4 30.4h0.8v0.8h-0.8zM4.8 30.4h4v0.8h-4zM4.8 31.2h2.4v0.8h-2.4zM8.8 31.2h1.6v0.8h-1.6zM1.6 32h0.8v0.8h-0.8zM8.8 32h0.8v0.8h-0.8zM1.6 32.8h0.8v0.8h-0.8zM4 32.8h5.6v0.8h-5.6zM4.8 33.6h1.6v0.8h-1.6zM7.2 33.6h0.8v0.8h-0.8zM0 34.4h0.8v0.8h-0.8zM2.4 34.4h0.8v0.8h-0.8zM4 34.4h1.6v0.8h-1.6zM0.8 35.2h1.6v0.8h-1.6zM3.2 35.2h0.8v0.8h-0.8zM4.8 35.2h0.8v0.8h-0.8zM6.4 35.2h1.6v0.8h-1.6zM4.8 36h0.8v0.8h-0.8zM8.8 36h0.8v0.8h-0.8zM10.4 36h0.8v0.8h-0.8zM0 36.8h0.8v0.8h-0.8zM3.2 36.8h0.8v0.8h-0.8zM4.8 36.8h0.8v0.8h-0.8zM6.4 36.8h1.6v0.8h-1.6zM8.8 36.8h0.8v0.8h-0.8zM4.8 37.6h0.8v0.8h-0.8zM6.4 37.6h1.6v0.8h-1.6zM8.8 37.6h0.8v0.8h-0.8zM10.4 37.6h0.8v0.8h-0.8zM0.8 38.4h0.8v0.8h-0.8zM2.4 38.4h0.8v0.8h-0.8zM4 38.4h2.4v0.8h-2.4zM8 38.4h0.8v0.8h-0.8zM10.4 38.4h0.8v0.8h-0.8zM0.8 39.2h3.2v0.8h-3.2zM4.8 39.2h3.2v0.8h-3.2zM8.8 39.2h0.8v0.8h-0.8zM10.4 39.2h0.8v0.8h-0.8zM0 40h1.6v0.8h-1.6zM2.4 40h0.8v0.8h-0.8zM5.6 40h0.8v0.8h-0.8zM7.2 40h0.8v0.8h-0.8zM8.8 40h0.8v0.8h-0.8zM0.8 40.8h2.4v0.8h-2.4zM5.6 40.8h1.6v0.8h-1.6zM8 40.8h0.8v0.8h-0.8zM9.6 40.8h0.8v0.8h-0.8zM0 41.6h0.8v0.8h-0.8zM6.4 41.6h1.6v0.8h-1.6zM0.8 42.4h2.4v0.8h-2.4zM6.4 42.4h0.8v0.8h-0.8zM0.8 43.2h0.8v0.8h-0.8zM3.2 43.2h0.8v0.8h-0.8zM4.8 43.2h1.6v0.8h-1.6zM8 43.2h0.8v0.8h-0.8zM9.6 43.2h1.6v0.8h-1.6zM0 44h0.8v0.8h-0.8zM1.6 44h0.8v0.8h-0.8zM3.2 44h0.8v0.8h-0.8zM6.4 44h0.8v0.8h-0.8zM8.8 44h1.6v0.8h-1.6zM0 44.8h0.8v0.8h-0.8zM1.6 44.8h1.6v0.8h-1.6zM4 44.8h4.8v0.8h-4.8zM10.4 44.8h0.8v0.8h-0.8zM1.6 45.6h1.6v0.8h-1.6zM4 45.6h0.8v0.8h-0.8zM7.2 45.6h0.8v0.8h-0.8zM10.4 45.6h0.8v0.8h-0.8zM0.8 46.4h0.8v0.8h-0.8zM2.4 46.4h1.6v0.8h-1.6zM4.8 46.4h0.8v0.8h-0.8zM8 46.4h0.8v0.8h-0.8zM10.4 46.4h0.8v0.8h-0.8zM0 47.2h1.6v0.8h-1.6zM4.8 47.2h0.8v0.8h-0.8zM9.6 47.2h0.8v0.8h-0.8zM0.8 48h2.4v0.8h-2.4zM4.8 48h0.8v0.8h-0.8zM6.4 48h0.8v0.8h-0.8zM9.6 48h1.6v0.8h-1.6zM0 48.8h0.8v0.8h-0.8zM2.4 48.8h0.8v0.8h-0.8zM4 48.8h1.6v0.8h-1.6zM7.2 48.8h0.8v0.8h-0.8zM9.6 48.8h0.8v0.8h-0.8zM0 49.6h0.8v0.8h-0.8zM2.4 49.6h2.4v0.8h-2.4zM5.6 49.6h0.8v0.8h-0.8zM8 49.6h1.6v0.8h-1.6zM1.6 50.4h3.2v0.8h-3.2zM9.6 50.4h1.6v0.8h-1.6zM0 51.2h1.6v0.8h-1.6zM4.8 51.2h0.8v0.8h-0.8zM6.4 51.2h0.8v0.8h-0.8zM8 51.2h0.8v0.8h-0.8zM0.8 52h0.8v0.8h-0.8zM3.2 52h1.6v0.8h-1.6zM5.6 52h2.4v0.8h-2.4zM9.6 52h1.6v0.8h-1.6zM0 52.8h0.8v0.8h-0.8zM1.6 52.8h1.6v0.8h-1.6zM4 52.8h0.8v0.8h-0.8z" fill="#1c1c1c"/>
<rect x="0" y="0" width="53.6" height="53.6" fill="none" stroke="#4a4a4a" stroke-width="0.9"/>
</g>
<rect x="246.1" y="79.6" width="53.6" height="53.6" fill="#7f8281" stroke="#4a4a4a" stroke-width="0.9"/>
<circle cx="272.6" cy="106.4" r="0.9" fill="#3a3a3a"/>
<line x1="131.9" y1="137.2" x2="149.3" y2="176.6" stroke="#111" stroke-width="1"/>
<path d="M149.3 176.6L145.27 172.91L149.29 171.14z" fill="#111"/>
<line x1="220.2" y1="137.2" x2="202" y2="176.6" stroke="#111" stroke-width="1"/>
<path d="M202 176.6L202.1 171.14L206.09 172.98z" fill="#111"/>
<use href="#lstack" transform="translate(70.7 148.05)"/>
<circle cx="131.9" cy="106.5" r="0.9" fill="#3a3a3a"/>
<path d="M201 254.5h2.8M202.4 253.1v2.8" stroke="#333" stroke-width="0.9"/>
<text x="133.4" y="295.8" font-size="9.5" textLength="78.84" lengthAdjust="spacingAndGlyphs" fill="#1a1a1a" stroke="#1a1a1a" stroke-width="0.05">combined percept</text>
<polygon points="388.81,19.33 391.11,25.7 393.42,32.06 395.72,38.43 398.02,44.8 400.33,51.17 402.63,57.54 404.94,53.74 407.25,57 409.55,52.66 411.86,48.32 414.16,55.91 416.47,59.71 418.77,62.42 421.07,65.13 423.38,67.29 425.69,68.92 427.99,70 430.3,71.09 432.6,71.63 434.9,71.9 437.21,72.17 439.51,72.71 441.82,73.53 444.12,74.34 446.43,75.06 448.74,75.79 451.04,76.51 453.35,77.46 455.65,78.41 457.95,79.35 460.26,80.3 462.56,80.66 464.87,81.02 467.18,81.39 469.48,81.57 471.79,81.75 474.09,81.93 476.39,80.3 478.7,68.38 481,66.21 483.31,64.04 485.62,61.87 487.92,64.04 490.23,66.21 492.53,67.84 494.84,70 497.14,71.63 499.44,73.26 501.75,74.34 504.06,74.88 506.36,75.42 508.67,75.79 510.97,76.15 513.27,76.51 515.58,76.69 517.88,76.87 520.19,77.05 522.5,77.16 524.8,77.27 527.11,77.38 529.41,77.48 531.72,77.59 534.02,77.95 536.33,78.31 538.63,78.68 540.93,79.04 543.24,79.4 545.55,79.76 547.85,77.05 550.15,77.05 552.46,77.05 554.76,77.05 557.07,77.05 559.38,77.05 561.68,77.32 563.99,77.59 566.29,77.86 568.6,78.13 570.9,78.41 573.21,78.46 575.51,78.51 577.82,78.57 580.12,78.62 582.42,78.68 584.73,78.78 587.04,78.89 589.34,79 591.64,79.11 593.95,79.22 596.25,79.27 598.56,79.33 600.87,79.38 603.17,79.43 605.48,79.49 607.78,79.54 610.09,79.6 612.39,79.65 614.7,79.71 617,79.76 617,96.02 614.7,96.02 612.39,96.02 610.09,96.02 607.78,96.02 605.48,96.02 603.17,96.02 600.87,96.02 598.56,96.02 596.25,96.02 593.95,96.02 591.64,96.02 589.34,96.02 587.04,96.02 584.73,96.02 582.42,96.02 580.12,95.89 577.82,95.76 575.51,95.63 573.21,95.5 570.9,95.37 568.6,95.34 566.29,95.3 563.99,95.27 561.68,95.24 559.38,95.21 557.07,95.15 554.76,95.1 552.46,95.04 550.15,94.99 547.85,94.94 545.55,96.56 543.24,96.56 540.93,96.56 538.63,96.56 536.33,96.56 534.02,96.56 531.72,96.56 529.41,96.56 527.11,96.45 524.8,96.35 522.5,96.24 520.19,96.13 517.88,96.02 515.58,95.88 513.27,95.74 510.97,95.6 508.67,95.46 506.36,95.32 504.06,95.21 501.75,95.1 499.44,94.99 497.14,94.88 494.84,94.77 492.53,94.77 490.23,94.77 487.92,94.77 485.62,94.77 483.31,94.77 481,95.48 478.7,97.1 476.39,101.98 474.09,102.52 471.79,102.52 469.48,102.52 467.18,102.52 464.87,102.52 462.56,102.52 460.26,102.52 457.95,102.52 455.65,102.52 453.35,102.39 451.04,102.25 448.74,102.12 446.43,101.98 444.12,101.71 441.82,101.44 439.51,101.17 437.21,100.9 434.9,101.44 432.6,101.98 430.3,101.98 427.99,101.98 425.69,101.71 423.38,101.44 421.07,101.44 418.77,100.9 416.47,99.54 414.16,99 411.86,99.27 409.55,100.9 407.25,104.15 404.94,110.65 402.63,127.46 400.33,125.83 398.02,122.58 395.72,118.78 393.42,116.07 391.11,113.36 388.81,109.19" fill="#e8f0f7"/>
<circle cx="388.81" cy="50.82" r="1.85" fill="#eba133"/>
<circle cx="391.11" cy="36.4" r="1.85" fill="#eba133"/>
<circle cx="393.42" cy="59.98" r="1.85" fill="#eba133"/>
<circle cx="395.72" cy="80.57" r="1.85" fill="#eba133"/>
<circle cx="398.02" cy="84.64" r="1.85" fill="#eba133"/>
<circle cx="400.33" cy="46.43" r="1.85" fill="#eba133"/>
<circle cx="402.63" cy="91.14" r="1.85" fill="#eba133"/>
<circle cx="404.94" cy="72.61" r="1.85" fill="#eba133"/>
<circle cx="407.25" cy="82.47" r="1.85" fill="#eba133"/>
<circle cx="409.55" cy="80.3" r="1.85" fill="#eba133"/>
<circle cx="411.86" cy="67.29" r="1.85" fill="#eba133"/>
<circle cx="414.16" cy="36.4" r="1.85" fill="#eba133"/>
<circle cx="416.47" cy="78.68" r="1.85" fill="#eba133"/>
<circle cx="418.77" cy="73.53" r="1.85" fill="#eba133"/>
<circle cx="421.07" cy="75.21" r="1.85" fill="#eba133"/>
<circle cx="423.38" cy="44.8" r="1.85" fill="#eba133"/>
<circle cx="425.69" cy="88.43" r="1.85" fill="#eba133"/>
<circle cx="427.99" cy="77.05" r="1.85" fill="#eba133"/>
<circle cx="430.3" cy="87.62" r="1.85" fill="#eba133"/>
<circle cx="432.6" cy="86.26" r="1.85" fill="#eba133"/>
<circle cx="434.9" cy="84.64" r="1.85" fill="#eba133"/>
<circle cx="437.21" cy="78.68" r="1.85" fill="#eba133"/>
<circle cx="439.51" cy="88.43" r="1.85" fill="#eba133"/>
<circle cx="441.82" cy="87.35" r="1.85" fill="#eba133"/>
<circle cx="444.12" cy="75.97" r="1.85" fill="#eba133"/>
<circle cx="446.43" cy="90.06" r="1.85" fill="#eba133"/>
<circle cx="448.74" cy="84.64" r="1.85" fill="#eba133"/>
<circle cx="451.04" cy="86.81" r="1.85" fill="#eba133"/>
<circle cx="453.35" cy="79.22" r="1.85" fill="#eba133"/>
<circle cx="455.65" cy="91.14" r="1.85" fill="#eba133"/>
<circle cx="457.95" cy="79.22" r="1.85" fill="#eba133"/>
<circle cx="460.26" cy="92.77" r="1.85" fill="#eba133"/>
<circle cx="462.56" cy="92.55" r="1.85" fill="#eba133"/>
<circle cx="464.87" cy="92.23" r="1.85" fill="#eba133"/>
<circle cx="467.18" cy="93.85" r="1.85" fill="#eba133"/>
<circle cx="469.48" cy="92.55" r="1.85" fill="#eba133"/>
<circle cx="471.79" cy="91.14" r="1.85" fill="#eba133"/>
<circle cx="474.09" cy="90.06" r="1.85" fill="#eba133"/>
<circle cx="476.39" cy="68.92" r="1.85" fill="#eba133"/>
<circle cx="478.7" cy="82.2" r="1.85" fill="#eba133"/>
<circle cx="481" cy="81.93" r="1.85" fill="#eba133"/>
<circle cx="483.31" cy="74.34" r="1.85" fill="#eba133"/>
<circle cx="485.62" cy="77.05" r="1.85" fill="#eba133"/>
<circle cx="487.92" cy="59.16" r="1.85" fill="#eba133"/>
<circle cx="490.23" cy="81.39" r="1.85" fill="#eba133"/>
<circle cx="492.53" cy="65.13" r="1.85" fill="#eba133"/>
<circle cx="494.84" cy="84.1" r="1.85" fill="#eba133"/>
<circle cx="497.14" cy="72.17" r="1.85" fill="#eba133"/>
<circle cx="499.44" cy="74.88" r="1.85" fill="#eba133"/>
<circle cx="501.75" cy="74.34" r="1.85" fill="#eba133"/>
<circle cx="504.06" cy="84.64" r="1.85" fill="#eba133"/>
<circle cx="506.36" cy="85.72" r="1.85" fill="#eba133"/>
<circle cx="508.67" cy="85.99" r="1.85" fill="#eba133"/>
<circle cx="510.97" cy="88.43" r="1.85" fill="#eba133"/>
<circle cx="513.27" cy="85.18" r="1.85" fill="#eba133"/>
<circle cx="515.58" cy="75.97" r="1.85" fill="#eba133"/>
<circle cx="517.88" cy="82.2" r="1.85" fill="#eba133"/>
<circle cx="520.19" cy="85.18" r="1.85" fill="#eba133"/>
<circle cx="522.5" cy="81.39" r="1.85" fill="#eba133"/>
<circle cx="524.8" cy="85.99" r="1.85" fill="#eba133"/>
<circle cx="527.11" cy="85.72" r="1.85" fill="#eba133"/>
<circle cx="529.41" cy="83.28" r="1.85" fill="#eba133"/>
<circle cx="531.72" cy="66.21" r="1.85" fill="#eba133"/>
<circle cx="534.02" cy="88.43" r="1.85" fill="#eba133"/>
<circle cx="536.33" cy="85.18" r="1.85" fill="#eba133"/>
<circle cx="538.63" cy="88.81" r="1.85" fill="#eba133"/>
<circle cx="540.93" cy="86.26" r="1.85" fill="#eba133"/>
<circle cx="543.24" cy="80.3" r="1.85" fill="#eba133"/>
<circle cx="545.55" cy="70.55" r="1.85" fill="#eba133"/>
<circle cx="547.85" cy="85.99" r="1.85" fill="#eba133"/>
<circle cx="550.15" cy="82.2" r="1.85" fill="#eba133"/>
<circle cx="552.46" cy="85.18" r="1.85" fill="#eba133"/>
<circle cx="554.76" cy="86.26" r="1.85" fill="#eba133"/>
<circle cx="557.07" cy="84.1" r="1.85" fill="#eba133"/>
<circle cx="559.38" cy="86.26" r="1.85" fill="#eba133"/>
<circle cx="561.68" cy="88.43" r="1.85" fill="#eba133"/>
<circle cx="563.99" cy="72.17" r="1.85" fill="#eba133"/>
<circle cx="566.29" cy="86.81" r="1.85" fill="#eba133"/>
<circle cx="568.6" cy="86.26" r="1.85" fill="#eba133"/>
<circle cx="570.9" cy="87.89" r="1.85" fill="#eba133"/>
<circle cx="573.21" cy="88.43" r="1.85" fill="#eba133"/>
<circle cx="575.51" cy="41.01" r="1.85" fill="#eba133"/>
<circle cx="577.82" cy="85.72" r="1.85" fill="#eba133"/>
<circle cx="580.12" cy="78.13" r="1.85" fill="#eba133"/>
<circle cx="582.42" cy="79.22" r="1.85" fill="#eba133"/>
<circle cx="584.73" cy="87.89" r="1.85" fill="#eba133"/>
<circle cx="587.04" cy="81.93" r="1.85" fill="#eba133"/>
<circle cx="589.34" cy="88.97" r="1.85" fill="#eba133"/>
<circle cx="591.64" cy="81.39" r="1.85" fill="#eba133"/>
<circle cx="593.95" cy="89.52" r="1.85" fill="#eba133"/>
<circle cx="596.25" cy="88.97" r="1.85" fill="#eba133"/>
<circle cx="598.56" cy="78.13" r="1.85" fill="#eba133"/>
<circle cx="600.87" cy="88.97" r="1.85" fill="#eba133"/>
<circle cx="603.17" cy="83.28" r="1.85" fill="#eba133"/>
<circle cx="605.48" cy="86.26" r="1.85" fill="#eba133"/>
<circle cx="607.78" cy="85.18" r="1.85" fill="#eba133"/>
<circle cx="610.09" cy="88.97" r="1.85" fill="#eba133"/>
<circle cx="612.39" cy="83.28" r="1.85" fill="#eba133"/>
<circle cx="614.7" cy="87.89" r="1.85" fill="#eba133"/>
<circle cx="617" cy="84.64" r="1.85" fill="#eba133"/>
<polyline points="388.81,63.23 391.11,70.28 393.42,76.24 395.72,81.93 398.02,87.35 400.33,92.23 402.63,94.18 404.94,85.72 407.25,89.35 409.55,84.1 411.86,78.89 414.16,80.84 416.47,83.01 418.77,85.18 421.07,87.89 423.38,89.25 425.69,89.79 427.99,89.52 430.3,90.6 432.6,91.68 434.9,90.06 437.21,89.25 439.51,89.52 441.82,90.06 444.12,91.14 446.43,91.68 448.74,92.5 451.04,92.77 453.35,93.04 455.65,93.31 457.95,93.31 460.26,93.85 462.56,94.21 464.87,94.57 467.18,94.94 469.48,94.94 471.79,94.72 474.09,94.5 476.39,94.29 478.7,84.1 481,81.93 483.31,80.84 485.62,80.3 487.92,81.39 490.23,82.2 492.53,82.8 494.84,83.39 497.14,83.99 499.44,84.58 501.75,85.18 504.06,85.79 506.36,86.4 508.67,87.01 510.97,87.62 513.27,88.07 515.58,88.52 517.88,88.97 520.19,89.01 522.5,89.05 524.8,89.08 527.11,89.22 529.41,89.36 531.72,89.51 534.02,89.65 536.33,89.79 538.63,89.92 540.93,90.06 543.24,90.19 545.55,90.33 547.85,87.62 550.15,87.62 552.46,87.62 554.76,87.62 557.07,87.62 559.38,87.62 561.68,87.78 563.99,87.94 566.29,88.11 568.6,88.27 570.9,88.43 573.21,88.59 575.51,88.76 577.82,88.92 580.12,89.08 582.42,89.25 584.73,89.35 587.04,89.46 589.34,89.57 591.64,89.68 593.95,89.79 596.25,89.77 598.56,89.74 600.87,89.72 603.17,89.7 605.48,89.68 607.78,89.62 610.09,89.57 612.39,89.52 614.7,89.46 617,89.41" fill="none" stroke="#2f7bbd" stroke-width="1.5" stroke-linejoin="round"/>
<path d="M388.81 14.7v3.5M391.11 14.7v3.5M393.42 14.7v3.5M395.72 14.7v3.5M398.02 14.7v3.5M400.33 14.7v3.5M402.63 129.45v3.5M404.94 14.7v3.5M407.25 129.45v3.5M409.55 129.45v3.5M411.86 14.7v3.5M414.16 14.7v3.5M416.47 14.7v3.5M418.77 14.7v3.5M421.07 14.7v3.5M423.38 14.7v3.5M425.69 129.45v3.5M427.99 14.7v3.5M430.3 14.7v3.5M432.6 129.45v3.5M434.9 129.45v3.5M437.21 14.7v3.5M439.51 129.45v3.5M441.82 14.7v3.5M444.12 14.7v3.5M446.43 14.7v3.5M448.74 14.7v3.5M451.04 129.45v3.5M453.35 14.7v3.5M455.65 129.45v3.5M457.95 14.7v3.5M460.26 14.7v3.5M462.56 14.7v3.5M464.87 14.7v3.5M467.18 129.45v3.5M469.48 129.45v3.5M471.79 14.7v3.5M474.09 129.45v3.5M476.39 129.45v3.5M478.7 129.45v3.5M481 129.45v3.5M483.31 129.45v3.5M485.62 14.7v3.5M487.92 14.7v3.5M490.23 129.45v3.5M492.53 14.7v3.5M494.84 14.7v3.5M497.14 14.7v3.5M499.44 14.7v3.5M501.75 14.7v3.5M504.06 14.7v3.5M506.36 14.7v3.5M508.67 14.7v3.5M510.97 129.45v3.5M513.27 129.45v3.5M515.58 14.7v3.5M517.88 14.7v3.5M520.19 14.7v3.5M522.5 129.45v3.5M524.8 14.7v3.5M527.11 14.7v3.5M529.41 129.45v3.5M531.72 14.7v3.5M534.02 14.7v3.5M536.33 14.7v3.5M538.63 14.7v3.5M540.93 129.45v3.5M543.24 14.7v3.5M545.55 129.45v3.5M547.85 14.7v3.5M550.15 14.7v3.5M552.46 129.45v3.5M554.76 14.7v3.5M557.07 129.45v3.5M559.38 129.45v3.5M561.68 129.45v3.5M563.99 14.7v3.5M566.29 14.7v3.5M568.6 14.7v3.5M570.9 14.7v3.5M573.21 129.45v3.5M575.51 14.7v3.5M577.82 14.7v3.5M580.12 14.7v3.5M582.42 14.7v3.5M584.73 14.7v3.5M587.04 14.7v3.5M589.34 129.45v3.5M591.64 14.7v3.5M593.95 129.45v3.5M596.25 129.45v3.5M598.56 14.7v3.5M600.87 129.45v3.5M603.17 14.7v3.5M605.48 129.45v3.5M607.78 129.45v3.5M610.09 14.7v3.5M612.39 129.45v3.5M614.7 14.7v3.5M617 14.7v3.5" stroke="#eba133" stroke-width="1.25" fill="none"/>
<rect x="377.3" y="14.35" width="251.1" height="118.95" fill="none" stroke="#262626" stroke-width="0.9"/>
<path d="M386.5 133.3v3.5M432.6 133.3v3.5M478.7 133.3v3.5M524.8 133.3v3.5M570.9 133.3v3.5M617 133.3v3.5" stroke="#262626" stroke-width="0.9"/>
<text x="383.32" y="147.7" font-size="12" textLength="6.36" lengthAdjust="spacingAndGlyphs" fill="#1a1a1a" stroke="#1a1a1a">0</text>
<text x="426.24" y="147.7" font-size="12" textLength="12.72" lengthAdjust="spacingAndGlyphs" fill="#1a1a1a" stroke="#1a1a1a">20</text>
<text x="472.34" y="147.7" font-size="12" textLength="12.72" lengthAdjust="spacingAndGlyphs" fill="#1a1a1a" stroke="#1a1a1a">40</text>
<text x="518.44" y="147.7" font-size="12" textLength="12.72" lengthAdjust="spacingAndGlyphs" fill="#1a1a1a" stroke="#1a1a1a">60</text>
<text x="564.54" y="147.7" font-size="12" textLength="12.72" lengthAdjust="spacingAndGlyphs" fill="#1a1a1a" stroke="#1a1a1a">80</text>
<text x="607.46" y="147.7" font-size="12" textLength="19.09" lengthAdjust="spacingAndGlyphs" fill="#1a1a1a" stroke="#1a1a1a">100</text>
<text x="492.3" y="161.1" font-size="11.8" textLength="21.2" lengthAdjust="spacingAndGlyphs" fill="#1a1a1a" stroke="#1a1a1a">trial</text>
<path d="M628.4 14.35h3.5M628.4 133.3h3.5" stroke="#262626" stroke-width="0.9"/>
<text x="634.7" y="19.8" font-size="11.8" textLength="37.6" lengthAdjust="spacingAndGlyphs" fill="#e6a02a" stroke="#e6a02a" stroke-width="0">correct</text>
<text x="634.6" y="137" font-size="11.8" textLength="48" lengthAdjust="spacingAndGlyphs" fill="#e6a02a" stroke="#e6a02a" stroke-width="0">incorrect</text>
<path d="M377.3 36.38h-3.5M377.3 63.41h-3.5M377.3 90.43h-3.5M377.3 117.45h-3.5" stroke="#262626" stroke-width="0.9"/>
<text x="355.1" y="40.98" font-size="12" textLength="15.9" lengthAdjust="spacingAndGlyphs" fill="#1a1a1a" stroke="#1a1a1a">0.0</text>
<text x="346.72" y="68" font-size="12" textLength="24.28" lengthAdjust="spacingAndGlyphs" fill="#1a1a1a" stroke="#1a1a1a">−0.5</text>
<text x="346.72" y="95.03" font-size="12" textLength="24.28" lengthAdjust="spacingAndGlyphs" fill="#1a1a1a" stroke="#1a1a1a">−1.0</text>
<text x="346.72" y="122.05" font-size="12" textLength="24.28" lengthAdjust="spacingAndGlyphs" fill="#1a1a1a" stroke="#1a1a1a">−1.5</text>
<polygon points="388.81,186.71 391.11,212.76 393.42,232.62 395.72,247.76 398.02,259.31 400.33,268.11 402.63,274.82 404.94,271.04 407.25,274.32 409.55,269.85 411.86,264.47 414.16,273.28 416.47,276.72 418.77,278.86 421.07,280.77 423.38,282.14 425.69,283.09 427.99,283.69 430.3,284.26 432.6,284.54 434.9,284.67 437.21,284.81 439.51,285.07 441.82,285.46 444.12,285.83 446.43,286.15 448.74,286.45 451.04,286.75 453.35,287.13 455.65,287.5 457.95,287.85 460.26,288.19 462.56,288.31 464.87,288.43 467.18,288.56 469.48,288.61 471.79,288.67 474.09,288.73 476.39,288.19 478.7,282.78 481,281.47 483.31,280.03 485.62,278.45 487.92,280.03 490.23,281.47 492.53,282.47 494.84,283.69 497.14,284.54 499.44,285.33 501.75,285.83 504.06,286.07 506.36,286.3 508.67,286.45 510.97,286.61 513.27,286.75 515.58,286.83 517.88,286.9 520.19,286.97 522.5,287.02 524.8,287.06 527.11,287.1 529.41,287.15 531.72,287.19 534.02,287.33 536.33,287.47 538.63,287.6 540.93,287.73 543.24,287.87 545.55,288 547.85,286.97 550.15,286.97 552.46,286.97 554.76,286.97 557.07,286.97 559.38,286.97 561.68,287.08 563.99,287.19 566.29,287.29 568.6,287.4 570.9,287.5 573.21,287.52 575.51,287.54 577.82,287.56 580.12,287.58 582.42,287.6 584.73,287.64 587.04,287.68 589.34,287.72 591.64,287.76 593.95,287.8 596.25,287.82 598.56,287.84 600.87,287.86 603.17,287.88 605.48,287.9 607.78,287.92 610.09,287.94 612.39,287.96 614.7,287.98 617,288 617,292.17 614.7,292.17 612.39,292.17 610.09,292.17 607.78,292.17 605.48,292.17 603.17,292.17 600.87,292.17 598.56,292.17 596.25,292.17 593.95,292.17 591.64,292.17 589.34,292.17 587.04,292.17 584.73,292.17 582.42,292.17 580.12,292.15 577.82,292.12 575.51,292.1 573.21,292.08 570.9,292.05 568.6,292.05 566.29,292.04 563.99,292.04 561.68,292.03 559.38,292.02 557.07,292.01 554.76,292 552.46,291.99 550.15,291.98 547.85,291.97 545.55,292.27 543.24,292.27 540.93,292.27 538.63,292.27 536.33,292.27 534.02,292.27 531.72,292.27 529.41,292.27 527.11,292.25 524.8,292.23 522.5,292.21 520.19,292.19 517.88,292.17 515.58,292.15 513.27,292.12 510.97,292.1 508.67,292.07 506.36,292.04 504.06,292.02 501.75,292 499.44,291.98 497.14,291.96 494.84,291.94 492.53,291.94 490.23,291.94 487.92,291.94 485.62,291.94 483.31,291.94 481,292.07 478.7,292.36 476.39,293.11 474.09,293.18 471.79,293.18 469.48,293.18 467.18,293.18 464.87,293.18 462.56,293.18 460.26,293.18 457.95,293.18 455.65,293.18 453.35,293.16 451.04,293.15 448.74,293.13 446.43,293.11 444.12,293.07 441.82,293.03 439.51,292.99 437.21,292.96 434.9,293.03 432.6,293.11 430.3,293.11 427.99,293.11 425.69,293.07 423.38,293.03 421.07,293.03 418.77,292.96 416.47,292.75 414.16,292.67 411.86,292.71 409.55,292.96 407.25,293.39 404.94,294.11 402.63,295.25 400.33,295.18 398.02,295 395.72,294.77 393.42,294.57 391.11,294.35 388.81,293.97" fill="#e8f0f7"/>
<circle cx="388.81" cy="267.68" r="1.85" fill="#eba133"/>
<circle cx="391.11" cy="243.37" r="1.85" fill="#eba133"/>
<circle cx="393.42" cy="276.95" r="1.85" fill="#eba133"/>
<circle cx="395.72" cy="288.28" r="1.85" fill="#eba133"/>
<circle cx="398.02" cy="289.56" r="1.85" fill="#eba133"/>
<circle cx="400.33" cy="261.79" r="1.85" fill="#eba133"/>
<circle cx="402.63" cy="291.21" r="1.85" fill="#eba133"/>
<circle cx="404.94" cy="285.02" r="1.85" fill="#eba133"/>
<circle cx="407.25" cy="288.91" r="1.85" fill="#eba133"/>
<circle cx="409.55" cy="288.19" r="1.85" fill="#eba133"/>
<circle cx="411.86" cy="282.14" r="1.85" fill="#eba133"/>
<circle cx="414.16" cy="243.37" r="1.85" fill="#eba133"/>
<circle cx="416.47" cy="287.6" r="1.85" fill="#eba133"/>
<circle cx="418.77" cy="285.46" r="1.85" fill="#eba133"/>
<circle cx="421.07" cy="286.21" r="1.85" fill="#eba133"/>
<circle cx="423.38" cy="259.31" r="1.85" fill="#eba133"/>
<circle cx="425.69" cy="290.58" r="1.85" fill="#eba133"/>
<circle cx="427.99" cy="286.97" r="1.85" fill="#eba133"/>
<circle cx="430.3" cy="290.37" r="1.85" fill="#eba133"/>
<circle cx="432.6" cy="290.02" r="1.85" fill="#eba133"/>
<circle cx="434.9" cy="289.56" r="1.85" fill="#eba133"/>
<circle cx="437.21" cy="287.6" r="1.85" fill="#eba133"/>
<circle cx="439.51" cy="290.58" r="1.85" fill="#eba133"/>
<circle cx="441.82" cy="290.3" r="1.85" fill="#eba133"/>
<circle cx="444.12" cy="286.53" r="1.85" fill="#eba133"/>
<circle cx="446.43" cy="290.96" r="1.85" fill="#eba133"/>
<circle cx="448.74" cy="289.56" r="1.85" fill="#eba133"/>
<circle cx="451.04" cy="290.16" r="1.85" fill="#eba133"/>
<circle cx="453.35" cy="287.8" r="1.85" fill="#eba133"/>
<circle cx="455.65" cy="291.21" r="1.85" fill="#eba133"/>
<circle cx="457.95" cy="287.8" r="1.85" fill="#eba133"/>
<circle cx="460.26" cy="291.55" r="1.85" fill="#eba133"/>
<circle cx="462.56" cy="291.51" r="1.85" fill="#eba133"/>
<circle cx="464.87" cy="291.44" r="1.85" fill="#eba133"/>
<circle cx="467.18" cy="291.77" r="1.85" fill="#eba133"/>
<circle cx="469.48" cy="291.51" r="1.85" fill="#eba133"/>
<circle cx="471.79" cy="291.21" r="1.85" fill="#eba133"/>
<circle cx="474.09" cy="290.96" r="1.85" fill="#eba133"/>
<circle cx="476.39" cy="283.09" r="1.85" fill="#eba133"/>
<circle cx="478.7" cy="288.82" r="1.85" fill="#eba133"/>
<circle cx="481" cy="288.73" r="1.85" fill="#eba133"/>
<circle cx="483.31" cy="285.83" r="1.85" fill="#eba133"/>
<circle cx="485.62" cy="286.97" r="1.85" fill="#eba133"/>
<circle cx="487.92" cy="276.26" r="1.85" fill="#eba133"/>
<circle cx="490.23" cy="288.56" r="1.85" fill="#eba133"/>
<circle cx="492.53" cy="280.77" r="1.85" fill="#eba133"/>
<circle cx="494.84" cy="289.41" r="1.85" fill="#eba133"/>
<circle cx="497.14" cy="284.81" r="1.85" fill="#eba133"/>
<circle cx="499.44" cy="286.07" r="1.85" fill="#eba133"/>
<circle cx="501.75" cy="285.83" r="1.85" fill="#eba133"/>
<circle cx="504.06" cy="289.56" r="1.85" fill="#eba133"/>
<circle cx="506.36" cy="289.87" r="1.85" fill="#eba133"/>
<circle cx="508.67" cy="289.94" r="1.85" fill="#eba133"/>
<circle cx="510.97" cy="290.58" r="1.85" fill="#eba133"/>
<circle cx="513.27" cy="289.72" r="1.85" fill="#eba133"/>
<circle cx="515.58" cy="286.53" r="1.85" fill="#eba133"/>
<circle cx="517.88" cy="288.82" r="1.85" fill="#eba133"/>
<circle cx="520.19" cy="289.72" r="1.85" fill="#eba133"/>
<circle cx="522.5" cy="288.56" r="1.85" fill="#eba133"/>
<circle cx="524.8" cy="289.94" r="1.85" fill="#eba133"/>
<circle cx="527.11" cy="289.87" r="1.85" fill="#eba133"/>
<circle cx="529.41" cy="289.16" r="1.85" fill="#eba133"/>
<circle cx="531.72" cy="281.47" r="1.85" fill="#eba133"/>
<circle cx="534.02" cy="290.58" r="1.85" fill="#eba133"/>
<circle cx="536.33" cy="289.72" r="1.85" fill="#eba133"/>
<circle cx="538.63" cy="290.67" r="1.85" fill="#eba133"/>
<circle cx="540.93" cy="290.02" r="1.85" fill="#eba133"/>
<circle cx="543.24" cy="288.19" r="1.85" fill="#eba133"/>
<circle cx="545.55" cy="283.98" r="1.85" fill="#eba133"/>
<circle cx="547.85" cy="289.94" r="1.85" fill="#eba133"/>
<circle cx="550.15" cy="288.82" r="1.85" fill="#eba133"/>
<circle cx="552.46" cy="289.72" r="1.85" fill="#eba133"/>
<circle cx="554.76" cy="290.02" r="1.85" fill="#eba133"/>
<circle cx="557.07" cy="289.41" r="1.85" fill="#eba133"/>
<circle cx="559.38" cy="290.02" r="1.85" fill="#eba133"/>
<circle cx="561.68" cy="290.58" r="1.85" fill="#eba133"/>
<circle cx="563.99" cy="284.81" r="1.85" fill="#eba133"/>
<circle cx="566.29" cy="290.16" r="1.85" fill="#eba133"/>
<circle cx="568.6" cy="290.02" r="1.85" fill="#eba133"/>
<circle cx="570.9" cy="290.44" r="1.85" fill="#eba133"/>
<circle cx="573.21" cy="290.58" r="1.85" fill="#eba133"/>
<circle cx="575.51" cy="252.81" r="1.85" fill="#eba133"/>
<circle cx="577.82" cy="289.87" r="1.85" fill="#eba133"/>
<circle cx="580.12" cy="287.4" r="1.85" fill="#eba133"/>
<circle cx="582.42" cy="287.8" r="1.85" fill="#eba133"/>
<circle cx="584.73" cy="290.44" r="1.85" fill="#eba133"/>
<circle cx="587.04" cy="288.73" r="1.85" fill="#eba133"/>
<circle cx="589.34" cy="290.71" r="1.85" fill="#eba133"/>
<circle cx="591.64" cy="288.56" r="1.85" fill="#eba133"/>
<circle cx="593.95" cy="290.84" r="1.85" fill="#eba133"/>
<circle cx="596.25" cy="290.71" r="1.85" fill="#eba133"/>
<circle cx="598.56" cy="287.4" r="1.85" fill="#eba133"/>
<circle cx="600.87" cy="290.71" r="1.85" fill="#eba133"/>
<circle cx="603.17" cy="289.16" r="1.85" fill="#eba133"/>
<circle cx="605.48" cy="290.02" r="1.85" fill="#eba133"/>
<circle cx="607.78" cy="289.72" r="1.85" fill="#eba133"/>
<circle cx="610.09" cy="290.71" r="1.85" fill="#eba133"/>
<circle cx="612.39" cy="289.16" r="1.85" fill="#eba133"/>
<circle cx="614.7" cy="290.44" r="1.85" fill="#eba133"/>
<circle cx="617" cy="289.56" r="1.85" fill="#eba133"/>
<polyline points="388.81,279.46 391.11,283.84 393.42,286.64 395.72,288.73 398.02,290.3 400.33,291.44 402.63,291.83 404.94,289.87 407.25,290.8 409.55,289.41 411.86,287.68 414.16,288.37 416.47,289.08 418.77,289.72 421.07,290.44 423.38,290.77 425.69,290.9 427.99,290.84 430.3,291.09 432.6,291.32 434.9,290.96 437.21,290.77 439.51,290.84 441.82,290.96 444.12,291.21 446.43,291.32 448.74,291.49 451.04,291.55 453.35,291.61 455.65,291.66 457.95,291.66 460.26,291.77 462.56,291.84 464.87,291.91 467.18,291.97 469.48,291.97 471.79,291.93 474.09,291.89 476.39,291.85 478.7,289.41 481,288.73 483.31,288.37 485.62,288.19 487.92,288.56 490.23,288.82 492.53,289.01 494.84,289.19 497.14,289.37 499.44,289.55 501.75,289.72 504.06,289.89 506.36,290.05 508.67,290.22 510.97,290.37 513.27,290.49 515.58,290.6 517.88,290.71 520.19,290.72 522.5,290.73 524.8,290.73 527.11,290.77 529.41,290.8 531.72,290.83 534.02,290.87 536.33,290.9 538.63,290.93 540.93,290.96 543.24,290.99 545.55,291.02 547.85,290.37 550.15,290.37 552.46,290.37 554.76,290.37 557.07,290.37 559.38,290.37 561.68,290.41 563.99,290.46 566.29,290.5 568.6,290.54 570.9,290.58 573.21,290.62 575.51,290.66 577.82,290.7 580.12,290.73 582.42,290.77 584.73,290.8 587.04,290.82 589.34,290.85 591.64,290.88 593.95,290.9 596.25,290.9 598.56,290.89 600.87,290.89 603.17,290.88 605.48,290.88 607.78,290.86 610.09,290.85 612.39,290.84 614.7,290.82 617,290.81" fill="none" stroke="#2f7bbd" stroke-width="1.5" stroke-linejoin="round"/>
<path d="M388.81 181.7v3.5M391.11 181.7v3.5M393.42 181.7v3.5M395.72 181.7v3.5M398.02 181.7v3.5M400.33 181.7v3.5M402.63 296.45v3.5M404.94 181.7v3.5M407.25 296.45v3.5M409.55 296.45v3.5M411.86 181.7v3.5M414.16 181.7v3.5M416.47 181.7v3.5M418.77 181.7v3.5M421.07 181.7v3.5M423.38 181.7v3.5M425.69 296.45v3.5M427.99 181.7v3.5M430.3 181.7v3.5M432.6 296.45v3.5M434.9 296.45v3.5M437.21 181.7v3.5M439.51 296.45v3.5M441.82 181.7v3.5M444.12 181.7v3.5M446.43 181.7v3.5M448.74 181.7v3.5M451.04 296.45v3.5M453.35 181.7v3.5M455.65 296.45v3.5M457.95 181.7v3.5M460.26 181.7v3.5M462.56 181.7v3.5M464.87 181.7v3.5M467.18 296.45v3.5M469.48 296.45v3.5M471.79 181.7v3.5M474.09 296.45v3.5M476.39 296.45v3.5M478.7 296.45v3.5M481 296.45v3.5M483.31 296.45v3.5M485.62 181.7v3.5M487.92 181.7v3.5M490.23 296.45v3.5M492.53 181.7v3.5M494.84 181.7v3.5M497.14 181.7v3.5M499.44 181.7v3.5M501.75 181.7v3.5M504.06 181.7v3.5M506.36 181.7v3.5M508.67 181.7v3.5M510.97 296.45v3.5M513.27 296.45v3.5M515.58 181.7v3.5M517.88 181.7v3.5M520.19 181.7v3.5M522.5 296.45v3.5M524.8 181.7v3.5M527.11 181.7v3.5M529.41 296.45v3.5M531.72 181.7v3.5M534.02 181.7v3.5M536.33 181.7v3.5M538.63 181.7v3.5M540.93 296.45v3.5M543.24 181.7v3.5M545.55 296.45v3.5M547.85 181.7v3.5M550.15 181.7v3.5M552.46 296.45v3.5M554.76 181.7v3.5M557.07 296.45v3.5M559.38 296.45v3.5M561.68 296.45v3.5M563.99 181.7v3.5M566.29 181.7v3.5M568.6 181.7v3.5M570.9 181.7v3.5M573.21 296.45v3.5M575.51 181.7v3.5M577.82 181.7v3.5M580.12 181.7v3.5M582.42 181.7v3.5M584.73 181.7v3.5M587.04 181.7v3.5M589.34 296.45v3.5M591.64 181.7v3.5M593.95 296.45v3.5M596.25 296.45v3.5M598.56 181.7v3.5M600.87 296.45v3.5M603.17 181.7v3.5M605.48 296.45v3.5M607.78 296.45v3.5M610.09 181.7v3.5M612.39 296.45v3.5M614.7 181.7v3.5M617 181.7v3.5" stroke="#eba133" stroke-width="1.25" fill="none"/>
<rect x="377.3" y="181.35" width="251.1" height="118.95" fill="none" stroke="#262626" stroke-width="0.9"/>
<path d="M386.5 300.3v3.5M432.6 300.3v3.5M478.7 300.3v3.5M524.8 300.3v3.5M570.9 300.3v3.5M617 300.3v3.5" stroke="#262626" stroke-width="0.9"/>
<text x="383.32" y="314.7" font-size="12" textLength="6.36" lengthAdjust="spacingAndGlyphs" fill="#1a1a1a" stroke="#1a1a1a">0</text>
<text x="426.24" y="314.7" font-size="12" textLength="12.72" lengthAdjust="spacingAndGlyphs" fill="#1a1a1a" stroke="#1a1a1a">20</text>
<text x="472.34" y="314.7" font-size="12" textLength="12.72" lengthAdjust="spacingAndGlyphs" fill="#1a1a1a" stroke="#1a1a1a">40</text>
<text x="518.44" y="314.7" font-size="12" textLength="12.72" lengthAdjust="spacingAndGlyphs" fill="#1a1a1a" stroke="#1a1a1a">60</text>
<text x="564.54" y="314.7" font-size="12" textLength="12.72" lengthAdjust="spacingAndGlyphs" fill="#1a1a1a" stroke="#1a1a1a">80</text>
<text x="607.46" y="314.7" font-size="12" textLength="19.09" lengthAdjust="spacingAndGlyphs" fill="#1a1a1a" stroke="#1a1a1a">100</text>
<text x="492.3" y="328.1" font-size="11.8" textLength="21.2" lengthAdjust="spacingAndGlyphs" fill="#1a1a1a" stroke="#1a1a1a">trial</text>
<path d="M628.4 181.35h3.5M628.4 300.3h3.5" stroke="#262626" stroke-width="0.9"/>
<text x="634.7" y="186.8" font-size="11.8" textLength="37.6" lengthAdjust="spacingAndGlyphs" fill="#e6a02a" stroke="#e6a02a" stroke-width="0">correct</text>
<text x="634.6" y="304" font-size="11.8" textLength="48" lengthAdjust="spacingAndGlyphs" fill="#e6a02a" stroke="#e6a02a" stroke-width="0">incorrect</text>
<path d="M377.3 296.35h-3.5M377.3 269.86h-3.5M377.3 243.37h-3.5M377.3 216.88h-3.5M377.3 190.39h-3.5" stroke="#262626" stroke-width="0.9"/>
<text x="364.64" y="300.95" font-size="12" textLength="6.36" lengthAdjust="spacingAndGlyphs" fill="#1a1a1a" stroke="#1a1a1a">0</text>
<text x="358.28" y="274.46" font-size="12" textLength="12.72" lengthAdjust="spacingAndGlyphs" fill="#1a1a1a" stroke="#1a1a1a">50</text>
<text x="351.91" y="247.97" font-size="12" textLength="19.09" lengthAdjust="spacingAndGlyphs" fill="#1a1a1a" stroke="#1a1a1a">100</text>
<text x="351.91" y="221.48" font-size="12" textLength="19.09" lengthAdjust="spacingAndGlyphs" fill="#1a1a1a" stroke="#1a1a1a">150</text>
<text x="351.91" y="194.99" font-size="12" textLength="19.09" lengthAdjust="spacingAndGlyphs" fill="#1a1a1a" stroke="#1a1a1a">200</text>
<g transform="translate(340.2 0) rotate(-90)" fill="#1a1a1a" stroke="#1a1a1a">
<text x="-110.1" y="0" font-size="11" textLength="14.9" lengthAdjust="spacingAndGlyphs">log</text>
<text x="-95.3" y="2.1" font-size="7.7" textLength="8.9" lengthAdjust="spacingAndGlyphs">10</text>
<text x="-80.6" y="0" font-size="11" textLength="42.6" lengthAdjust="spacingAndGlyphs">contrast</text>
</g>
<g transform="translate(346.2 0) rotate(-90)" fill="#1a1a1a" stroke="#1a1a1a">
<text x="-291.3" y="0" font-size="11" textLength="99.8" lengthAdjust="spacingAndGlyphs">contrast (% of max)</text>
</g>
<rect x="452.7" y="186.7" width="168.9" height="48.4" rx="2" ry="2" fill="#fff" fill-opacity="0.8" stroke="#d4d4d4" stroke-width="0.8"/>
<line x1="456" y1="194.7" x2="478" y2="194.7" stroke="#2f7bbd" stroke-width="1.5"/>
<rect x="456.8" y="206.9" width="21" height="6.7" fill="#e8f0f7"/>
<circle cx="467.2" cy="226.2" r="1.8" fill="#eba133"/>
<text x="485.8" y="199.2" font-size="11.8" textLength="133.2" lengthAdjust="spacingAndGlyphs" fill="#1a1a1a" stroke="#1a1a1a">posterior mean threshold</text>
<text x="485.8" y="213.8" font-size="11.8" textLength="112.9" lengthAdjust="spacingAndGlyphs" fill="#1a1a1a" stroke="#1a1a1a">90% credible interval</text>
<text x="485.8" y="228.5" font-size="11.8" textLength="90.8" lengthAdjust="spacingAndGlyphs" fill="#1a1a1a" stroke="#1a1a1a">stimulus contrast</text>
</svg></body></html>
